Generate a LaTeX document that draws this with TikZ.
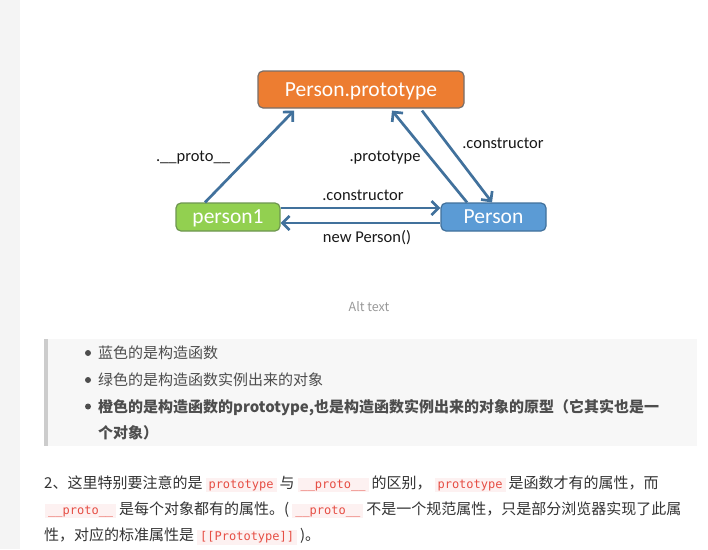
\documentclass[tikz,border=0pt]{standalone}
\usepackage{fontspec}
\usetikzlibrary{arrows.meta}
\newfontfamily\calib{Carlito}
\newfontfamily\cjk{Noto Sans CJK SC}
\newfontfamily\monof{DejaVu Sans Mono}
\definecolor{arrowc}{RGB}{65,113,156}
\definecolor{orangef}{RGB}{237,125,49}
\definecolor{greenf}{RGB}{146,208,80}
\definecolor{bluef}{RGB}{91,155,213}
\definecolor{orangeb}{RGB}{120,110,105}
\definecolor{greenb}{RGB}{110,150,80}
\definecolor{blueb}{RGB}{65,113,156}
\definecolor{stripc}{RGB}{244,244,244}
\definecolor{quotebg}{RGB}{247,247,247}
\definecolor{quotebd}{RGB}{204,204,204}
\definecolor{quotetx}{RGB}{77,77,77}
\definecolor{bodytx}{RGB}{51,51,51}
\definecolor{codebg}{RGB}{253,241,241}
\definecolor{codefg}{RGB}{230,78,68}
\definecolor{alttx}{RGB}{153,153,153}
\newcommand\cd[1]{{\setlength\fboxsep{1.5pt}\colorbox{codebg}{\hspace{1.5pt}\textcolor{codefg}{\monof\fontsize{12}{14}\selectfont #1}\hspace{1.5pt}}}}
\newcommand\gp{\hspace{3pt}}
\tikzset{
  boxst/.style={draw, line width=1.2pt, rounded corners=5pt, inner sep=0pt, text depth=0pt,
    text=white, font=\calib\fontsize{21.5}{24}\selectfont},
  conn/.style={draw=arrowc, line width=2.7pt, -{Straight Barb[length=7pt,width=14pt]}},
  lbl/.style={font=\calib\fontsize{16.5}{18}\selectfont, text=black!90, inner sep=0pt},
  qline/.style={anchor=base west, inner sep=0pt, text=quotetx, font=\cjk\fontsize{15}{18}\selectfont},
  pline/.style={anchor=base west, inner sep=0pt, text=bodytx, font=\cjk\fontsize{15}{18}\selectfont},
  bdot/.style={circle, fill=quotetx, inner sep=0pt, minimum size=6pt}
}
\begin{document}
\begin{tikzpicture}[x=1pt,y=-1pt]
\useasboundingbox (0,0) rectangle (708,549);
\fill[white] (0,0) rectangle (708,549);
\fill[stripc] (0,0) rectangle (20,549);
% diagram boxes
\node[boxst, draw=orangeb, fill=orangef, minimum width=206pt, minimum height=37pt] (proto) at (361,89.5) {Person.prototype};
\node[boxst, draw=greenb, fill=greenf, minimum width=104pt, minimum height=28pt] (p1) at (228,217) {person1};
\node[boxst, draw=blueb, fill=bluef, minimum width=105pt, minimum height=28pt] (P) at (493.5,217) {Person};
% connectors
\draw[conn] ([xshift=-23pt]p1.north) -- ([xshift=-67pt,yshift=-2pt]proto.south);
\draw[conn] ([xshift=-26.5pt]P.north) -- ([xshift=31pt,yshift=-2pt]proto.south);
\draw[conn] ([xshift=61pt,yshift=-2pt]proto.south) -- ([xshift=-1.5pt]P.north);
\draw[conn] ([yshift=9pt]p1.east) -- ([yshift=9pt]P.west);
\draw[conn] ([yshift=-6pt]P.west) -- ([yshift=-6pt]p1.east);
% labels
\node[lbl] (l1) at (193,158) {.\_\_proto\_\_};
\node[lbl] (l2) at (385,158) {.prototype};
\node[lbl] (l3) at (503,143) {.constructor};
\node[lbl] (l4) at (363,195) {.constructor};
\node[lbl] (l5) at (367,238) {new Person()};
% alt text
\node[font=\cjk\fontsize{12.5}{14}\selectfont, text=alttx, inner sep=0pt] (alt) at (369,307) {Alt text};
% blockquote
\fill[quotebg] (48,339) rectangle (697,446);
\fill[quotebd] (44,339) rectangle (48,446);
\node[bdot] (d1) at (88,353) {};
\node[bdot] (d2) at (88,380) {};
\node[bdot] (d3) at (88,406.5) {};
\node[qline] (q1) at (98,358.5) {蓝色的是构造函数};
\node[qline] (q2) at (98,385.5) {绿色的是构造函数实例出来的对象};
\node[qline, font=\cjk\bfseries\fontsize{15}{18}\selectfont] (q3) at (98,412) {橙色的是构造函数的prototype,也是构造函数实例出来的对象的原型（它其实也是一};
\node[qline, font=\cjk\bfseries\fontsize{15}{18}\selectfont] (q4) at (98,438) {个对象）};
% paragraph
\node[pline] (t1) at (44,488) {2、这里特别要注意的是\gp\cd{prototype}\gp 与\gp\cd{\_\_proto\_\_}\gp 的区别，\gp\cd{prototype}\gp 是函数才有的属性，而};
\node[pline] (t2) at (45,514) {\cd{\_\_proto\_\_}\gp 是每个对象都有的属性。(\gp\cd{\_\_proto\_\_}\gp 不是一个规范属性，只是部分浏览器实现了此属};
\node[pline] (t3) at (44,540.5) {性，对应的标准属性是\gp\cd{[[Prototype]]}\gp )。};
\end{tikzpicture}
\end{document}
